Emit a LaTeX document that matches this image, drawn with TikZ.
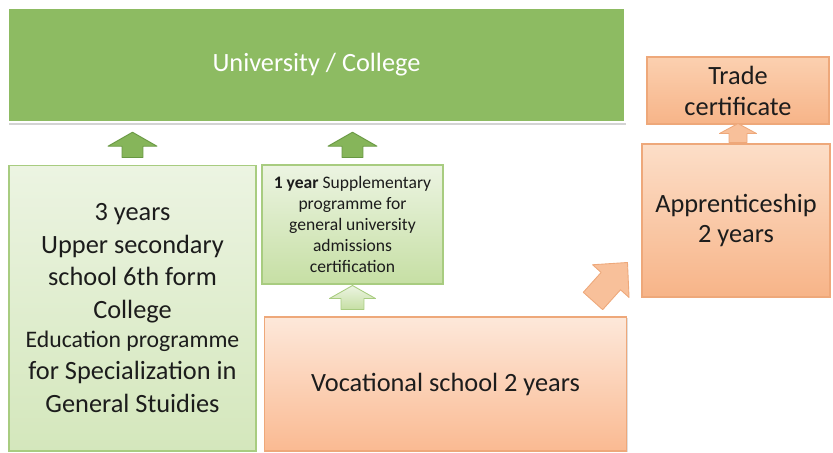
\documentclass[tikz,border=0pt]{standalone}
\usepackage{fontspec}
\setmainfont{Carlito}
\usetikzlibrary{positioning, calc, shadows}
\definecolor{unigreen}{RGB}{141,187,98}
\definecolor{arrgreen}{RGB}{134,181,90}
\definecolor{arrgreenline}{RGB}{104,152,66}
\definecolor{palegreentop}{RGB}{236,244,226}
\definecolor{palegreenbot}{RGB}{212,231,188}
\definecolor{suppbot}{RGB}{198,223,164}
\definecolor{greenline}{RGB}{168,204,128}
\definecolor{peachtop}{RGB}{253,232,218}
\definecolor{peachbot}{RGB}{250,186,146}
\definecolor{orangetop}{RGB}{251,208,176}
\definecolor{orangebot}{RGB}{247,180,136}
\definecolor{orangeline}{RGB}{238,168,122}
\definecolor{arrorange}{RGB}{248,192,154}
\definecolor{darktext}{RGB}{28,28,28}
\tikzset{
  unibox/.style={draw=white, line width=1.4pt, fill=unigreen, text=white, font=\fontsize{15}{18.5}\selectfont,
    drop shadow={shadow xshift=0.8pt, shadow yshift=-1.6pt, opacity=0.35}},
  greenbox/.style={draw=greenline, line width=0.6pt, top color=palegreentop, bottom color=palegreenbot, align=center,
    text=darktext, font=\fontsize{15}{18.5}\selectfont, drop shadow={shadow xshift=0.6pt, shadow yshift=-0.8pt, opacity=0.25}},
  orangebox/.style={draw=orangeline, line width=0.6pt, top color=orangetop, bottom color=orangebot, align=center,
    text=darktext, font=\fontsize{15}{17.6}\selectfont, drop shadow={shadow xshift=0.6pt, shadow yshift=-0.8pt, opacity=0.25}},
  bigarrow/.style={fill=arrgreen, draw=arrgreenline, line width=0.5pt, line join=round},
  smallarrow/.style={top color=palegreentop, bottom color=suppbot, draw=greenline, line width=0.5pt, line join=round},
  peacharrow/.style={fill=arrorange, draw=orangeline, line width=0.5pt, line join=round}
}
% block arrow: style, tail, tip, half shaft, half head, head length
\newcommand{\blockarrow}[6]{%
  \coordinate (ba-h) at ($#3!#6!#2$);
  \path[#1] ($#2!#4!90:#3$) -- ($(ba-h)!#4!90:#3$) -- ($(ba-h)!#5!90:#3$) -- #3
    -- ($(ba-h)!#5!-90:#3$) -- ($(ba-h)!#4!-90:#3$) -- ($#2!#4!-90:#3$) -- cycle;
}

\begin{document}
\begin{tikzpicture}[x=0.02cm, y=-0.02cm]
  \useasboundingbox (0,0) rectangle (833,453);

  \node[unibox, minimum width=12.34cm, minimum height=2.28cm] (uni) at (316.5,65) {University / College};

  \node[greenbox, minimum width=4.94cm, minimum height=5.72cm] (sixth) at (132.5,308)
    {3 years\\Upper secondary\\school 6th form\\College\\[-2pt]
     \fontsize{13.5}{16.5}\selectfont Education programme\\for Specialization in\\General Stuidies};
  \node[greenbox, bottom color=suppbot, minimum width=3.62cm, minimum height=2.38cm,
    font=\fontsize{10}{12}\selectfont] (supp) at (352.5,224.5)
    {\textbf{1 year} Supplementary\\programme for\\general university\\admissions\\certification};
  \node[orangebox, top color=peachtop, bottom color=peachbot, minimum width=7.26cm, minimum height=2.68cm] (voc) at (445.5,384)
    {Vocational school 2 years};
  \node[orangebox, minimum width=3.64cm, minimum height=1.34cm] (trade) at (738,90.5) {Trade\\certificate};
  \node[orangebox, top color=orangetop!70!white, minimum width=3.76cm, minimum height=3.06cm] (appr) at (736,220.5)
    {Apprenticeship\\2 years};

  \coordinate (g1a) at ($(sixth.north)+(0,-7)$);
  \coordinate (g1b) at ($(sixth.north |- uni.south)+(0,9)$);
  \coordinate (g2a) at ($(supp.north)+(0,-7)$);
  \coordinate (g2b) at ($(supp.north |- uni.south)+(0,9)$);
  \coordinate (g3a) at ($(supp.south |- voc.north)+(0,-7)$);
  \coordinate (g3b) at ($(supp.south)+(0,1)$);
  \coordinate (o1a) at ($(trade.south |- appr.north)+(0,-1)$);
  \coordinate (o1b) at ($(trade.south)+(0,-1)$);
  \coordinate (o2a) at ($(voc.north east)+(-34.5,-15.5)$);
  \coordinate (o2b) at ($(voc.north east)+(0,-54)$);

  \blockarrow{bigarrow}{(g1a)}{(g1b)}{0.21cm}{0.49cm}{0.28cm}
  \blockarrow{bigarrow}{(g2a)}{(g2b)}{0.21cm}{0.49cm}{0.28cm}
  \blockarrow{smallarrow}{(g3a)}{(g3b)}{0.23cm}{0.46cm}{0.26cm}
  \blockarrow{peacharrow}{(o1a)}{(o1b)}{0.18cm}{0.37cm}{0.2cm}
  \blockarrow{peacharrow}{(o2a)}{(o2b)}{0.26cm}{0.49cm}{0.5cm}
\end{tikzpicture}
\end{document}
